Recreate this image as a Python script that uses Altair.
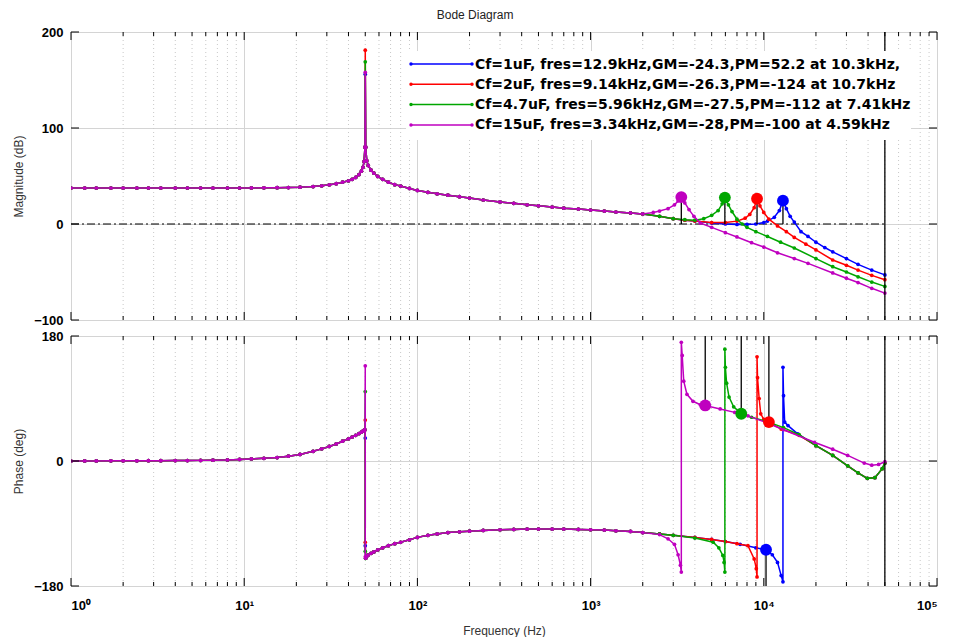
import altair as alt
import pandas as pd

# ---------------- data ----------------
labels = [
    "Cf=1uF, fres=12.9kHz,GM=-24.3,PM=52.2 at 10.3kHz,",
    "Cf=2uF, fres=9.14kHz,GM=-26.3,PM=-124 at 10.7kHz",
    "Cf=4.7uF, fres=5.96kHz,GM=-27.5,PM=-112 at 7.41kHz",
    "Cf=15uF, fres=3.34kHz,GM=-28,PM=-100 at 4.59kHz",
]
colors = ["#0000ff", "#ff0000", "#00a600", "#bf00bf"]

# shared low-frequency part
lf_freq = [1, 1.2, 1.4, 1.7, 2, 2.4, 2.8, 3.3, 4, 4.7, 5.6, 6.6, 8, 9.4, 11, 13, 15.5, 18, 21, 25,
           28, 31, 34, 37, 40, 42, 44, 46, 47.5, 48.5, 49.2, 49.8]
lf_mag = [37.5, 37.5, 37.5, 37.5, 37.5, 37.5, 37.5, 37.5, 37.5, 37.5, 37.5, 37.5, 37.5, 37.5, 37.6, 37.7,
          37.8, 38, 38.3, 39, 39.8, 40.8, 42, 43.5, 45, 46.5, 48.5, 51.5, 55, 59, 65, 80]
lf_phase = [0, 0.1, 0.1, 0.2, 0.3, 0.3, 0.4, 0.5, 0.6, 0.7, 0.9, 1.1, 1.6, 2.2, 2.9, 3.8, 5, 7, 9.5, 14,
            17.5, 21, 24.5, 28.5, 32, 34.5, 37, 39.5, 41.5, 43, 44, 45]

# spike at 50 Hz (per series: blue, red, green, magenta)
spike_mag = [156, 181, 169, 158]
spike_ph_top = [33, 59, 100, 137]
spike_ph_bot = [-122, -117, -130, -138]

# shared part after the 50 Hz spike
mid_freq = [50.3, 51, 52, 54, 56, 59, 63, 68, 74, 80, 90, 100, 115, 130, 150, 175, 200, 240, 300, 360,
            430, 500, 600, 700, 850, 1000, 1200, 1400, 1700, 2000]
mid_mag = [80, 66, 61, 56, 53, 49.5, 46.5, 43.5, 41, 39.5, 37, 35, 33, 31.5, 30, 28.5, 27, 25, 23, 21.5,
           20, 19, 17.7, 16.5, 15.5, 14.5, 13.5, 12.5, 11.5, 10.5]
mid_phase = [-140, -137, -135.5, -133, -131, -128, -125, -122, -119, -117, -113.5, -110, -107, -105, -103,
             -102, -101, -100, -99, -98.5, -98, -98, -98, -98, -98.5, -99, -99.5, -100.5, -101.5, -103]

# high-frequency tails, magnitude
tail_mag_f = [
    [2500, 3000, 3500, 4000, 5000, 6000, 7000, 8000, 9000, 10000, 10500, 11500, 12300, 12900, 13500, 14200,
     15000, 16400, 18000, 20000, 22500, 25000, 30000, 35000, 42000, 50000],
    [2500, 3000, 3500, 4000, 5000, 6000, 7000, 7800, 8300, 8800, 9140, 9500, 10000, 10700, 12000, 13500,
     15000, 17500, 20000, 25000, 30000, 35000, 42000, 50000],
    [2500, 3000, 3500, 4000, 4500, 5000, 5450, 5750, 5960, 6250, 6550, 7000, 7500, 8000, 9000, 10500,
     12500, 15000, 20000, 25000, 30000, 35000, 42000, 50000],
    [2300, 2500, 2800, 3050, 3200, 3340, 3500, 3700, 3950, 4300, 5000, 6000, 7000, 8500, 10000, 12000,
     15000, 18000, 25000, 30000, 35000, 42000, 50000],
]
tail_mag_v = [
    [8, 5.5, 4, 3, 1, 0, -0.5, -0.5, 0, 1.5, 3, 7, 14, 24.3, 16, 8, 2, -8, -13, -19, -24.5, -29, -36, -42,
     -48, -53],
    [8, 5.5, 4, 3, 1.5, 1.5, 3, 6, 10, 17, 26.3, 19, 12, 5, -2, -8, -14, -21, -27, -37.5, -43, -48, -53.5,
     -58],
    [8, 5.5, 4.5, 4, 5.5, 9, 14, 21, 27.5, 20, 13, 5, 0, -3.5, -8, -13, -19, -25, -36, -44.5, -50, -55,
     -60.5, -65],
    [12, 13.5, 16, 20, 24, 28, 22, 15, 8, 1, -3.5, -9, -13.5, -19.5, -24, -30, -36, -41, -51, -56.5, -61,
     -67, -72],
]

# high-frequency tails, phase
tail_ph_f = [
    [2500, 3000, 4000, 5000, 6000, 7300, 9000, 10300, 11200, 12000, 12600, 12900, 12900, 13000, 13200,
     13800, 15700, 20000, 25000, 30500, 35000, 39600, 43800, 48300, 50000],
    [2500, 3000, 4000, 5000, 6000, 7000, 8100, 8800, 9050, 9140, 9140, 9200, 9400, 9600, 10000, 10700,
     12600, 16000, 20000, 25000, 30500, 35000, 39600, 43800, 48300, 50000],
    [2500, 3000, 4000, 5100, 5500, 5800, 5900, 5960, 5960, 6000, 6100, 6300, 6700, 7410, 8500, 10400,
     13000, 16000, 20000, 25000, 30500, 35000, 39600, 43800, 48300, 50000],
    [2500, 2800, 3050, 3200, 3300, 3340, 3340, 3380, 3450, 3600, 3900, 4300, 4590, 5600, 6800, 8100,
     10400, 13000, 19600, 25000, 30500, 38000, 42000, 46000, 50000],
]
tail_ph_v = [
    [-105, -107, -110, -113, -116, -120, -125, -128, -135, -146, -165, -174, 135, 94, 56, 51, 39, 22, 8,
     -7, -17, -25, -24, -11, -3],
    [-105, -107, -110, -113, -116, -119, -122, -141, -155, -167, 150, 120, 90, 68, 60, 56, 46, 37, 22, 8,
     -7, -17, -25, -24, -11, -3],
    [-105, -107, -111, -117, -125, -136, -146, -160, 161, 135, 112, 92, 78, 68, 63, 57, 48, 38, 22, 8, -7,
     -17, -25, -24, -11, -3],
    [-106, -112, -120, -135, -150, -160, 171, 152, 115, 96, 86, 81, 80, 75, 70, 65, 55, 45, 27, 17, 8, -3,
     -6, -5, -1],
]

# margin markers
fres = [12900, 9140, 5960, 3340]
peak_mag = [24.3, 26.3, 27.5, 28]
pm_freq = [10300, 10700, 7410, 4590]
pm_phase = [-127.8, 56, 68, 80]
pm_stem_end = [-180, 180, 180, 180]

decades = [1, 10, 100, 1000, 10000, 100000]
minor_mult = [2, 3, 4, 5, 6, 7, 8, 9]
cut_freq = 50000

# ---------------- build tables ----------------
W, H1, H2 = 866, 288, 250
FONT = "Liberation Sans"

mag_rows, ph_rows = [], []
for i, lab in enumerate(labels):
    f = lf_freq + [50] + mid_freq + tail_mag_f[i]
    m = lf_mag + [spike_mag[i]] + mid_mag + tail_mag_v[i]
    for k, (a, b) in enumerate(zip(f, m)):
        mag_rows.append({"series": lab, "idx": k, "f": a, "v": b})
    f = lf_freq + [50, 50] + mid_freq + tail_ph_f[i]
    p = lf_phase + [spike_ph_top[i], spike_ph_bot[i]] + mid_phase + tail_ph_v[i]
    for k, (a, b) in enumerate(zip(f, p)):
        ph_rows.append({"series": lab, "idx": k, "f": a, "v": b})
mag_df = pd.DataFrame(mag_rows)
ph_df = pd.DataFrame(ph_rows)

mag_mark_df = pd.DataFrame({"series": labels, "f": fres, "v": peak_mag, "v0": [0] * 4})
ph_mark_df = pd.DataFrame({"series": labels, "f": pm_freq, "v": pm_phase, "v0": pm_stem_end})

minor_df = pd.DataFrame({"f": [d * m for d in decades[:-1] for m in minor_mult]})
major_df = pd.DataFrame({"f": decades})
cut_df = pd.DataFrame({"f": [cut_freq]})

color_scale = alt.Scale(domain=labels, range=colors)
xscale = alt.Scale(type="log", domain=[1, 100000], nice=False)

sup = "datum.value==1?'10⁰':datum.value==10?'10¹':datum.value==100?'10²':datum.value==1000?'10³':datum.value==10000?'10⁴':'10⁵'"


def legend_layers():
    out = [alt.Chart(pd.DataFrame({"a": [0]})).mark_rect(color="white").encode(
        x=alt.value(335), x2=alt.value(840), y=alt.value(19), y2=alt.value(108))]
    for i, lab in enumerate(labels):
        d = pd.DataFrame({"t": [lab]})
        yy = 32 + 20.3 * i
        out.append(alt.Chart(d).mark_rule(color=colors[i], strokeWidth=1.5).encode(
            x=alt.value(340), x2=alt.value(401), y=alt.value(yy)))
        out.append(alt.Chart(pd.DataFrame({"x": [340, 401]})).mark_point(
            filled=True, size=12, color=colors[i], opacity=1).encode(
            x=alt.X("x:Q", scale=None), y=alt.value(yy)))
        out.append(alt.Chart(d).mark_text(align="left", baseline="middle", font="DejaVu Sans",
                                          fontSize=14, fontWeight="bold", color="black").encode(
            text="t:N", x=alt.value(404), y=alt.value(yy + 0.5)))
    return out


def panel(df, mark_df, ydom, yvals, ytitle, H, show_x, show_legend, hline_df):
    x_axis = alt.Axis(values=decades, grid=True, gridColor="#d4d4d4", ticks=False, domain=False,
                      labels=show_x, labelExpr=sup, labelFont=FONT, labelFontSize=13,
                      labelFontWeight="bold", labelColor="black", labelPadding=13,
                      title="Frequency  (Hz)" if show_x else None, titleFont=FONT, titleFontSize=12,
                      titleFontWeight="normal", titleColor="#333333", titlePadding=13)
    y_axis = alt.Axis(values=yvals, grid=True, gridColor="#d4d4d4", ticks=False, domain=False,
                      labelFont=FONT, labelFontSize=13, labelFontWeight="bold", labelColor="black",
                      labelPadding=8, title=ytitle, titleFont=FONT, titleFontSize=12,
                      titleFontWeight="normal", titleColor="#333333", titlePadding=8)
    yscale = alt.Scale(domain=ydom, nice=False)
    base_x = alt.X("f:Q", scale=xscale, axis=x_axis)

    grid = alt.Chart(minor_df).mark_rule(color="#c8c8c8", strokeDash=[1, 3], strokeWidth=1).encode(
        x=alt.X("f:Q", scale=xscale))
    layers = [alt.Chart(major_df).mark_rule(opacity=0).encode(x=base_x,
              y=alt.Y("v:Q", scale=yscale, axis=y_axis), y2=alt.Y2("v2:Q"))
              .transform_calculate(v=str(ydom[0]), v2=str(ydom[1])), grid]
    if hline_df is not None:
        layers.append(alt.Chart(hline_df).mark_rule(color="black", strokeDash=[8, 3, 2, 3], strokeWidth=1.2)
                      .encode(x=alt.X("f:Q", scale=xscale), x2="f2:Q", y=alt.Y("v:Q", scale=yscale)))
    for i, lab in enumerate(labels):
        layers.append(
            alt.Chart(df[df.series == lab]).mark_line(
                strokeWidth=1.5, clip=True,
                point=alt.OverlayMarkDef(size=14, filled=True, opacity=1, clip=True)).encode(
                x=alt.X("f:Q", scale=xscale),
                y=alt.Y("v:Q", scale=yscale),
                color=alt.Color("series:N", scale=color_scale, legend=None),
                order="idx:Q"))
    layers.append(alt.Chart(mark_df).mark_rule(color="black", strokeWidth=1.3).encode(
        x=alt.X("f:Q", scale=xscale), y=alt.Y("v:Q", scale=yscale), y2="v0:Q"))
    layers.append(alt.Chart(mark_df).mark_point(filled=True, size=140, opacity=1).encode(
        x=alt.X("f:Q", scale=xscale), y=alt.Y("v:Q", scale=yscale),
        color=alt.Color("series:N", scale=color_scale, legend=None)))
    layers.append(alt.Chart(cut_df).mark_rule(color="black", strokeWidth=1.3).encode(
        x=alt.X("f:Q", scale=xscale), y=alt.value(0), y2=alt.value(H)))
    # inward ticks
    for y0, y1, dfx in [(0, 4, minor_df), (0, 8, major_df), (H, H - 4, minor_df), (H, H - 8, major_df)]:
        layers.append(alt.Chart(dfx).mark_rule(color="black", strokeWidth=1).encode(
            x=alt.X("f:Q", scale=xscale), y=alt.value(y0), y2=alt.value(y1)))
    yt = pd.DataFrame({"v": yvals})
    for x0, x1 in [(0, 8), (W, W - 8)]:
        layers.append(alt.Chart(yt).mark_rule(color="black", strokeWidth=1).encode(
            y=alt.Y("v:Q", scale=yscale), x=alt.value(x0), x2=alt.value(x1)))
    if show_legend:
        layers += legend_layers()
    return alt.layer(*layers).properties(width=W, height=H)


hline = pd.DataFrame({"f": [1], "f2": [cut_freq], "v": [0]})
top = panel(mag_df, mag_mark_df, [-100, 200], [-100, 0, 100, 200], "Magnitude (dB)", H1, False, True, hline)
bottom = panel(ph_df, ph_mark_df, [-180, 180], [-180, 0, 180], "Phase (deg)", H2, True, False, None)

chart = alt.vconcat(top, bottom, spacing=1).properties(
    title=alt.TitleParams("Bode Diagram", font=FONT, fontSize=12, fontWeight="normal",
                          color="#222222", anchor="middle", offset=4),
    padding={"left": 4, "top": 0, "right": 2, "bottom": 0},
).configure_view(stroke="black", strokeWidth=1).configure(background="white")

chart.save("out.html", embed_options={"renderer": "svg", "actions": False})
